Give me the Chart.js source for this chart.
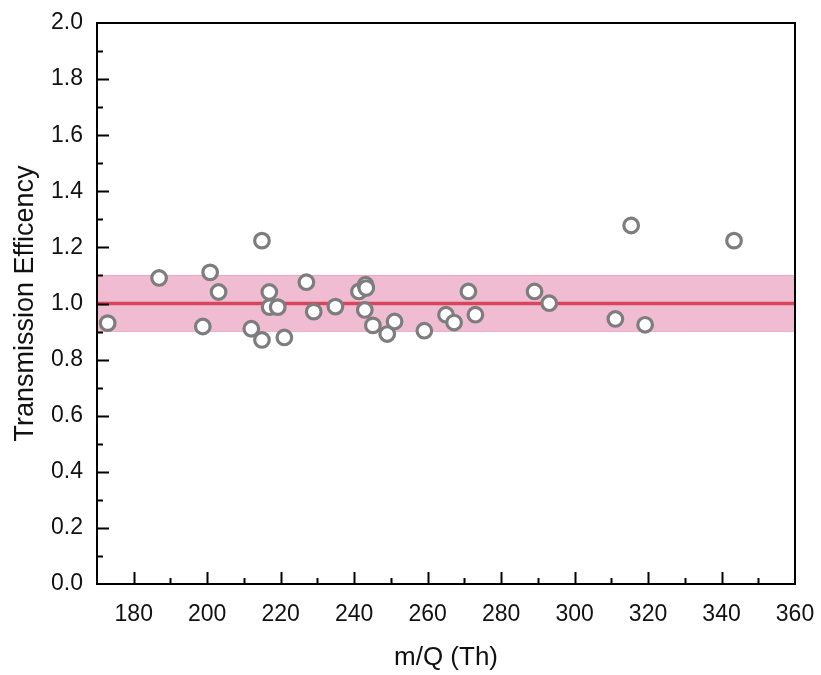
<!DOCTYPE html>
<html>
<head>
<meta charset="utf-8">
<script src="https://cdn.jsdelivr.net/npm/chart.js@4/dist/chart.umd.min.js"></script>
<style>
  html, body { margin: 0; padding: 0; background: #fff; }
  #wrap { width: 821px; height: 675px; }
</style>
</head>
<body>
<div id="wrap"><canvas id="scatter"></canvas></div>
<script>
// measured points (m/Q in Th, transmission efficiency)
const massQ = [172.9, 186.9, 198.8, 200.8, 203.1, 212.0, 214.9, 214.9, 216.9, 217.0, 219.2, 221.0,
               227.0, 229.0, 234.9, 241.3, 242.9, 243.1, 243.3, 245.1, 249.0, 251.0, 259.1, 265.0,
               267.2, 271.1, 273.0, 289.1, 293.1, 311.1, 315.4, 319.2, 343.4];
const efficiency = [0.930, 1.091, 0.918, 1.111, 1.041, 0.910, 1.224, 0.870, 1.041, 0.987, 0.987, 0.879,
                    1.076, 0.971, 0.989, 1.043, 0.977, 1.067, 1.055, 0.922, 0.891, 0.936, 0.903, 0.960,
                    0.932, 1.043, 0.960, 1.043, 1.001, 0.945, 1.278, 0.924, 1.224];

// reference line and +/-10% band
const bandX = [170, 360];
const bandHigh = [1.1, 1.1];
const bandLow = [0.9, 0.9];
const refLine = [1.0, 1.0];

const xTicks = [180, 200, 220, 240, 260, 280, 300, 320, 340, 360];
const yTicks = [0.0, 0.2, 0.4, 0.6, 0.8, 1.0, 1.2, 1.4, 1.6, 1.8, 2.0];

const toPoints = (xs, ys) => xs.map((x, i) => ({x: x, y: ys[i]}));

// box frame with inward major/minor ticks on bottom and left
const frameTicks = {
  id: 'frameTicks',
  afterDraw(chart) {
    const {ctx, chartArea: a, scales: {x, y}} = chart;
    ctx.save();
    ctx.strokeStyle = '#000';
    ctx.lineWidth = 2;
    ctx.beginPath();
    for (let v = 180; v <= 350; v += 10) {
      const px = Math.round(x.getPixelForValue(v)) + 0.5;
      const len = v % 20 === 0 ? 12 : 6;
      ctx.moveTo(px, a.bottom);
      ctx.lineTo(px, a.bottom - len);
    }
    for (let i = 1; i < 20; i++) {
      const py = Math.round(y.getPixelForValue(i / 10)) + 0.5;
      const len = i % 2 === 0 ? 12 : 6;
      ctx.moveTo(a.left, py);
      ctx.lineTo(a.left + len, py);
    }
    ctx.stroke();
    ctx.strokeRect(a.left, a.top, a.right - a.left, a.bottom - a.top);
    ctx.restore();
  }
};

// keep the plot box fixed; labels may spill into the outer padding
const noEdgePadding = (scale) => {
  scale.paddingLeft = 0;
  scale.paddingRight = 0;
  scale.paddingTop = 0;
  scale.paddingBottom = 0;
};

const font = 'Liberation Sans, Arial, sans-serif';

new Chart(document.getElementById('scatter'), {
  type: 'scatter',
  data: {
    datasets: [
      {
        label: 'Data',
        data: toPoints(massQ, efficiency),
        pointRadius: 7.3,
        pointBorderWidth: 3.2,
        pointBorderColor: '#7d7d7d',
        pointBackgroundColor: '#ffffff',
        order: 0
      },
      {
        label: 'Reference',
        type: 'line',
        data: toPoints(bandX, refLine),
        borderColor: '#d8465c',
        borderWidth: 3.5,
        pointRadius: 0,
        fill: false,
        order: 1
      },
      {
        label: 'Upper',
        type: 'line',
        data: toPoints(bandX, bandHigh),
        borderColor: '#e6a9c3',
        borderWidth: 1,
        pointRadius: 0,
        backgroundColor: '#f0bcd2',
        fill: '+1',
        order: 2
      },
      {
        label: 'Lower',
        type: 'line',
        data: toPoints(bandX, bandLow),
        borderColor: '#e6a9c3',
        borderWidth: 1,
        pointRadius: 0,
        fill: false,
        order: 3
      }
    ]
  },
  options: {
    responsive: true,
    maintainAspectRatio: false,
    animation: false,
    layout: { padding: { top: 23, right: 26, left: 0, bottom: 0 } },
    scales: {
      x: {
        type: 'linear',
        min: 170,
        max: 360,
        afterBuildTicks: (scale) => { scale.ticks = xTicks.map(v => ({value: v})); },
        afterFit: (scale) => { scale.height = 91; noEdgePadding(scale); },
        grid: { display: false, drawTicks: false },
        border: { display: false },
        ticks: { padding: 17, color: '#111', font: { family: font, size: 23 } },
        title: { display: true, text: 'm/Q (Th)', color: '#111', font: { family: font, size: 26 }, padding: { top: 0, bottom: 2 } }
      },
      y: {
        min: 0,
        max: 2,
        afterBuildTicks: (scale) => { scale.ticks = yTicks.map(v => ({value: v})); },
        afterFit: (scale) => { scale.width = 97; noEdgePadding(scale); },
        grid: { display: false, drawTicks: false },
        border: { display: false },
        ticks: { padding: 14, color: '#111', font: { family: font, size: 23 }, callback: (v) => v.toFixed(1) },
        title: { display: true, text: 'Transmission Efficency', color: '#111', font: { family: font, size: 27 }, padding: { top: 9, bottom: 0 } }
      }
    },
    plugins: {
      legend: { display: false },
      tooltip: { enabled: false }
    }
  },
  plugins: [frameTicks]
});
</script>
</body>
</html>
